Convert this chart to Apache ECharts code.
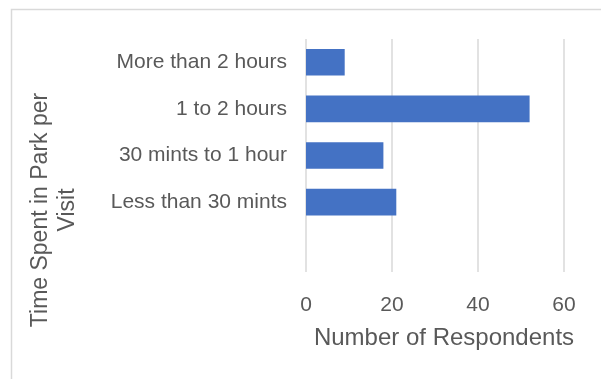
<!DOCTYPE html>
<html>
<head>
<meta charset="utf-8">
<script src="https://cdn.jsdelivr.net/npm/echarts@6/dist/echarts.min.js"></script>
<style>
html,body{margin:0;padding:0;background:#fff;}
#c{width:601px;height:379px;}
</style>
</head>
<body>
<div id="c"></div>
<script>
const categories = ['', 'Less than 30 mints', '30 mints to 1 hour', '1 to 2 hours', 'More than 2 hours'];
const respondents = [null, 21, 18, 52, 9];
const xTicks = [0, 20, 40, 60];
const xTitle = 'Number of Respondents';
const yTitle = 'Time Spent in Park per\nVisit';

const font = '"Liberation Sans", Arial, sans-serif';
const chart = echarts.init(document.getElementById('c'), null, {renderer: 'canvas'});
chart.setOption({
  animation: false,
  backgroundColor: '#fff',
  grid: {left: 306, right: 37, top: 39, bottom: 107, containLabel: false},
  xAxis: {
    type: 'value',
    min: xTicks[0],
    max: xTicks[xTicks.length - 1],
    interval: xTicks[1] - xTicks[0],
    axisLine: {show: false},
    axisTick: {show: false},
    splitLine: {show: true, lineStyle: {color: '#d9d9d9', width: 1.5}},
    axisLabel: {color: '#595959', fontSize: 21, fontFamily: font, margin: 23},
    name: xTitle,
    nameLocation: 'middle',
    nameGap: 54,
    nameTextStyle: {color: '#595959', fontSize: 24, fontFamily: font, padding: [0, 0, 0, 18]}
  },
  yAxis: {
    type: 'category',
    data: categories,
    axisLine: {show: false},
    axisTick: {show: false},
    splitLine: {show: false},
    axisLabel: {color: '#595959', fontSize: 21, fontFamily: font, margin: 19}
  },
  graphic: [
    {
      type: 'rect',
      shape: {x: 11.5, y: 9.5, width: 700, height: 500},
      style: {fill: 'none', stroke: '#d9d9d9', lineWidth: 1.5},
      silent: true
    },
    {
      type: 'text',
      x: 54, y: 210,
      rotation: Math.PI / 2,
      style: {
        text: yTitle,
        fill: '#595959',
        font: '23px ' + font,
        align: 'center',
        verticalAlign: 'middle',
        lineHeight: 27
      }
    }
  ],
  series: [{
    type: 'bar',
    data: respondents,
    barWidth: '57%',
    itemStyle: {color: '#4472c4'}
  }]
});
</script>
</body>
</html>
